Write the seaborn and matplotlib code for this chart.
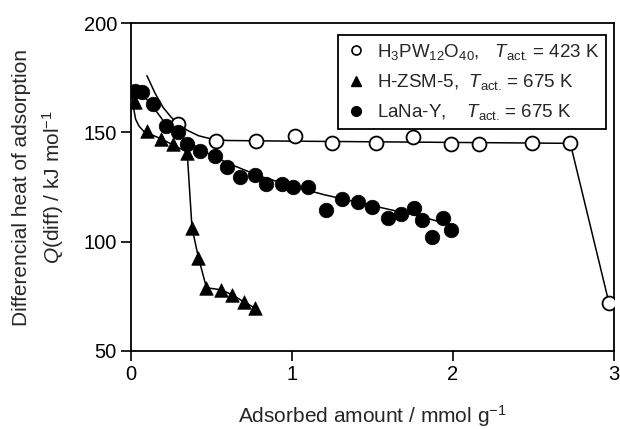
## LIBRARIES

import numpy as np
import pandas as pd
import matplotlib
matplotlib.use('Agg')
import matplotlib.pyplot as plt
from matplotlib.lines import Line2D
import seaborn as sns

# DATA (x in mmol/g, y in kJ/mol)

hpw_x = [0.29, 0.53, 0.78, 1.02, 1.25, 1.52, 1.75, 1.99, 2.16, 2.49, 2.73, 2.97]
hpw_y = [154, 146.3, 146, 148.2, 145, 145, 148, 144.5, 144.5, 145, 145, 72]

zsm_x = [0.025, 0.10, 0.19, 0.26, 0.35, 0.38, 0.42, 0.47, 0.56, 0.63, 0.70, 0.77]
zsm_y = [164, 150.5, 146.8, 144.5, 140.8, 106.4, 92.7, 78.9, 78, 75.7, 72.5, 69.7]

lay_x = [0.025, 0.07, 0.14, 0.22, 0.29, 0.35, 0.43, 0.52, 0.60, 0.68, 0.77, 0.84, 0.94,
         1.01, 1.10, 1.21, 1.31, 1.41, 1.50, 1.60, 1.68, 1.76, 1.81, 1.87, 1.94, 1.99]
lay_y = [168.8, 168.3, 162.8, 152.8, 150, 144.5, 141.3, 139, 134.4, 129.8, 130.7, 126.6, 126.6,
         124.8, 124.8, 114.7, 119.3, 118.3, 116, 111, 112.8, 115.6, 110.1, 102.3, 111, 105.5]

# guide-to-the-eye lines as drawn in the figure
hpw_line_x = [0.10, 0.15, 0.20, 0.25, 0.29, 0.35, 0.42, 0.50, 0.60, 1.0, 2.73, 2.97]
hpw_line_y = [176, 168, 161.5, 157, 154, 151, 148.5, 147, 146.3, 146, 145, 72]

zsm_line_x = [0.005, 0.015, 0.03, 0.05, 0.08, 0.19, 0.35, 0.38, 0.42, 0.47, 0.56, 0.63, 0.70, 0.77]
zsm_line_y = [170, 162, 156, 153, 150.5, 147, 141, 106.4, 92.7, 78.9, 78, 75.7, 72.5, 69.7]

lay_line_x = [0.0, 0.05, 0.10, 0.15, 0.20, 0.27, 0.35, 0.45, 0.60, 0.80, 1.0, 1.2, 1.5, 1.8, 2.0]
lay_line_y = [171, 168.5, 165, 160.5, 155.5, 150.5, 146, 141.5, 136, 130, 125.5, 121.5, 116.5, 111.5, 107.5]

labels = [r'H$_3$PW$_{12}$O$_{40}$,   $T_{\rm act.}\,$= 423 K',
          r'H-ZSM-5,  $T_{\rm act.}\,$= 675 K',
          r'LaNa-Y,    $T_{\rm act.}\,$= 675 K']

# STYLE

sns.set_style('ticks')
plt.rcParams['font.family'] = ['Liberation Sans', 'DejaVu Sans']
plt.rcParams['mathtext.fontset'] = 'custom'
plt.rcParams['mathtext.rm'] = 'Liberation Sans'
plt.rcParams['mathtext.it'] = 'Liberation Sans:italic'
plt.rcParams['mathtext.bf'] = 'Liberation Sans:bold'

fig = plt.figure(figsize=(6.2, 4.29), dpi=100)
ax = fig.add_axes([0.211, 0.182, 0.779, 0.764])

# lines
sns.lineplot(x=hpw_line_x, y=hpw_line_y, ax=ax, color='black', lw=1.1, sort=False, estimator=None)
sns.lineplot(x=zsm_line_x, y=zsm_line_y, ax=ax, color='black', lw=1.1, sort=False, estimator=None)
sns.lineplot(x=lay_line_x, y=lay_line_y, ax=ax, color='black', lw=1.1, sort=False, estimator=None)

# markers
sns.scatterplot(x=hpw_x, y=hpw_y, ax=ax, marker='o', s=100, facecolor='white',
                edgecolor='black', linewidth=1.3, zorder=3)
sns.scatterplot(x=zsm_x, y=zsm_y, ax=ax, marker='^', s=95, color='black',
                edgecolor='black', linewidth=0.5, zorder=3)
sns.scatterplot(x=lay_x, y=lay_y, ax=ax, marker='o', s=110, color='black',
                edgecolor='black', linewidth=0.5, zorder=3)

ax.set_xlim(0, 3)
ax.set_ylim(50, 200)
ax.set_xticks([0, 1, 2, 3])
ax.set_yticks([50, 100, 150, 200])
ax.tick_params(direction='out', length=7, width=1.2, labelsize=14.5, colors='black', pad=3)
for sp in ax.spines.values():
    sp.set_visible(True)
    sp.set_linewidth(1.3)
    sp.set_color('black')

ax.set_xlabel(r'Adsorbed amount / mmol g$^{-1}$', fontsize=15, labelpad=14)
ax.set_ylabel('Differencial heat of adsorption\n' + r'$Q$(diff) / kJ mol$^{-1}$',
              fontsize=15, labelpad=13, linespacing=1.45)

# legend
handles = [
    Line2D([], [], ls='none', marker='o', ms=6.5, mfc='white', mec='black', mew=1.2),
    Line2D([], [], ls='none', marker='^', ms=6.5, mfc='black', mec='black'),
    Line2D([], [], ls='none', marker='o', ms=7, mfc='black', mec='black'),
]
leg = ax.legend(handles, labels, loc='upper right', bbox_to_anchor=(0.983, 0.963),
                borderaxespad=0, fontsize=13.5, frameon=True, fancybox=False,
                handletextpad=0.5, handlelength=1.2, labelspacing=0.55,
                borderpad=0.35, edgecolor='black')
leg.get_frame().set_linewidth(1.3)
leg.get_frame().set_alpha(1)

plt.savefig('out.png', dpi=100)
